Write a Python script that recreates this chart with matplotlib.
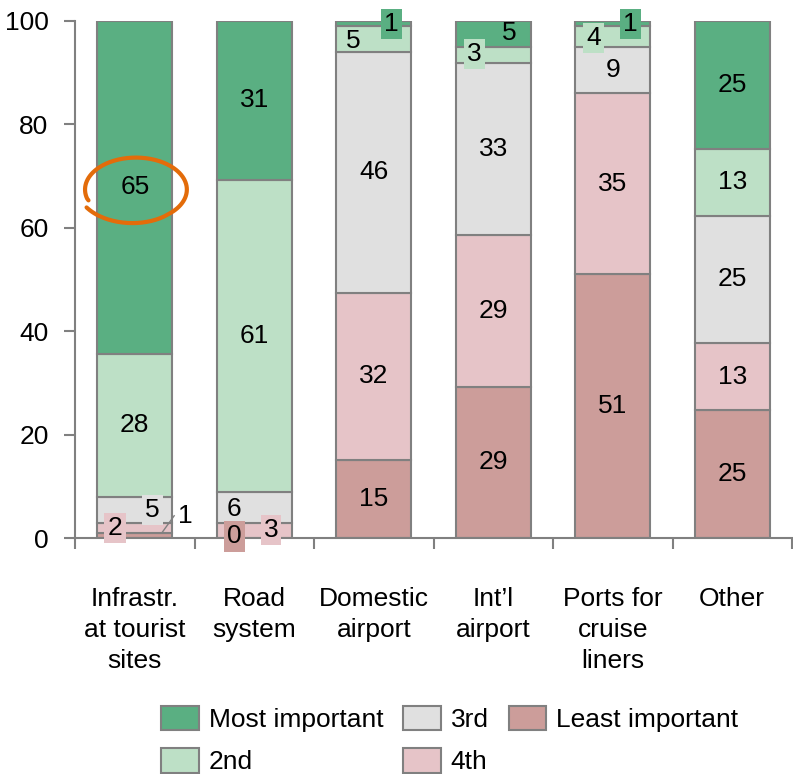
import matplotlib
matplotlib.use("Agg")
import matplotlib.pyplot as plt
import numpy as np
from matplotlib.patches import Patch

plt.rcParams["font.family"] = ["Liberation Sans", "DejaVu Sans"]
plt.rcParams["font.size"] = 19

categories = [
    "Infrastr.\nat tourist\nsites",
    "Road\nsystem",
    "Domestic\nairport",
    "Int\u2019l\nairport",
    "Ports for\ncruise\nliners",
    "Other",
]
# stacked bottom -> top
series_names = ["Least important", "4th", "3rd", "2nd", "Most important"]
least = [1, 0, 15, 29, 51, 25]
fourth = [2, 3, 32, 29, 35, 13]
third = [5, 6, 46, 33, 9, 25]
second = [28, 61, 5, 3, 4, 13]
most = [65, 31, 1, 5, 1, 25]

colors = ["#CC9D9A", "#E6C4C8", "#E0E0E0", "#BDE0C6", "#5AAF82"]
edge = "#808080"

# small segments get their labels moved: (series, bar) -> (dx, y, boxed)
moved = {
    (0, 0): (0.42, 4.2, False),
    (1, 0): (-0.165, 1.9, True),
    (2, 0): (0.15, 5.4, True),
    (0, 1): (-0.165, 0.3, True),
    (1, 1): (0.14, 1.5, True),
    (2, 1): (-0.17, 5.6, False),
    (3, 2): (-0.17, 96.1, False),
    (4, 2): (0.15, 99.4, True),
    (3, 3): (-0.16, 93.6, True),
    (4, 3): (0.135, 97.7, False),
    (3, 4): (-0.16, 96.7, True),
    (4, 4): (0.15, 99.4, True),
}

values = np.array([least, fourth, third, second, most], dtype=float)
shares = values / values.sum(axis=0) * 100

fig = plt.figure(figsize=(7.93, 7.74), dpi=100)
ax = fig.add_axes([75 / 793, 236 / 774, 717 / 793, 517 / 774])

x = np.arange(len(categories))
bottom = np.zeros(len(categories))
for i, name in enumerate(series_names):
    ax.bar(x, shares[i], 0.625, bottom=bottom, color=colors[i],
           edgecolor=edge, linewidth=1.5, zorder=2)
    for j in range(len(categories)):
        label = f"{int(values[i, j])}"
        if (i, j) in moved:
            dx, y, boxed = moved[(i, j)]
            bbox = dict(boxstyle="square,pad=0.12", fc=colors[i], ec="none") if boxed else None
            ax.text(x[j] + dx, y, label, ha="center", va="center",
                    bbox=bbox, zorder=5, clip_on=False)
        else:
            ax.text(x[j], bottom[j] + shares[i, j] / 2, label,
                    ha="center", va="center", zorder=5)
    bottom += shares[i]

# leader line for the "1" on the first bar
ax.plot([0.23, 0.33], [1.1, 4.3], color=edge, lw=1, zorder=4)

# hand-drawn orange loop round the 65
t = np.radians(np.linspace(200, -150, 200))
r = np.linspace(0.62, 1.12, 200)
r = np.minimum(r * 1.6, 1.0) + np.clip(np.linspace(-0.3, 0.12, 200), 0, None)
ax.plot(0.01 + 0.426 * r * np.cos(t), 67.4 + 6.18 * r * np.sin(t),
        color="#E36C0A", lw=3, zorder=6, solid_capstyle="round")

ax.set_ylim(0, 100)
ax.set_xlim(-0.5, -0.5 + 717 / 121.1)
ax.set_yticks(range(0, 101, 20))
ax.set_xticks(x)
ax.set_xticklabels(categories, va="top", linespacing=1.37)
ax.set_xticks(np.arange(-0.5, 6, 1), minor=True)
ax.tick_params(axis="x", which="major", length=0, pad=35.5)
ax.tick_params(axis="x", which="minor", length=8, width=1.5, color=edge)
ax.tick_params(axis="y", length=8, width=1.5, color=edge, pad=11)
for side in ["top", "right"]:
    ax.spines[side].set_visible(False)
for side in ["left", "bottom"]:
    ax.spines[side].set_color(edge)
    ax.spines[side].set_linewidth(1.5)

handles = [Patch(facecolor=colors[i], edgecolor=edge, linewidth=1.5, label=series_names[i])
           for i in [4, 3, 2, 1, 0]]
fig.legend(handles=handles, ncol=3, loc="center", bbox_to_anchor=(0.567, 0.044),
           frameon=False, handlelength=1.43, handleheight=1.05, handletextpad=0.38,
           columnspacing=0.75, labelspacing=0.62, borderpad=0)

fig.savefig("out.png", dpi=100)
